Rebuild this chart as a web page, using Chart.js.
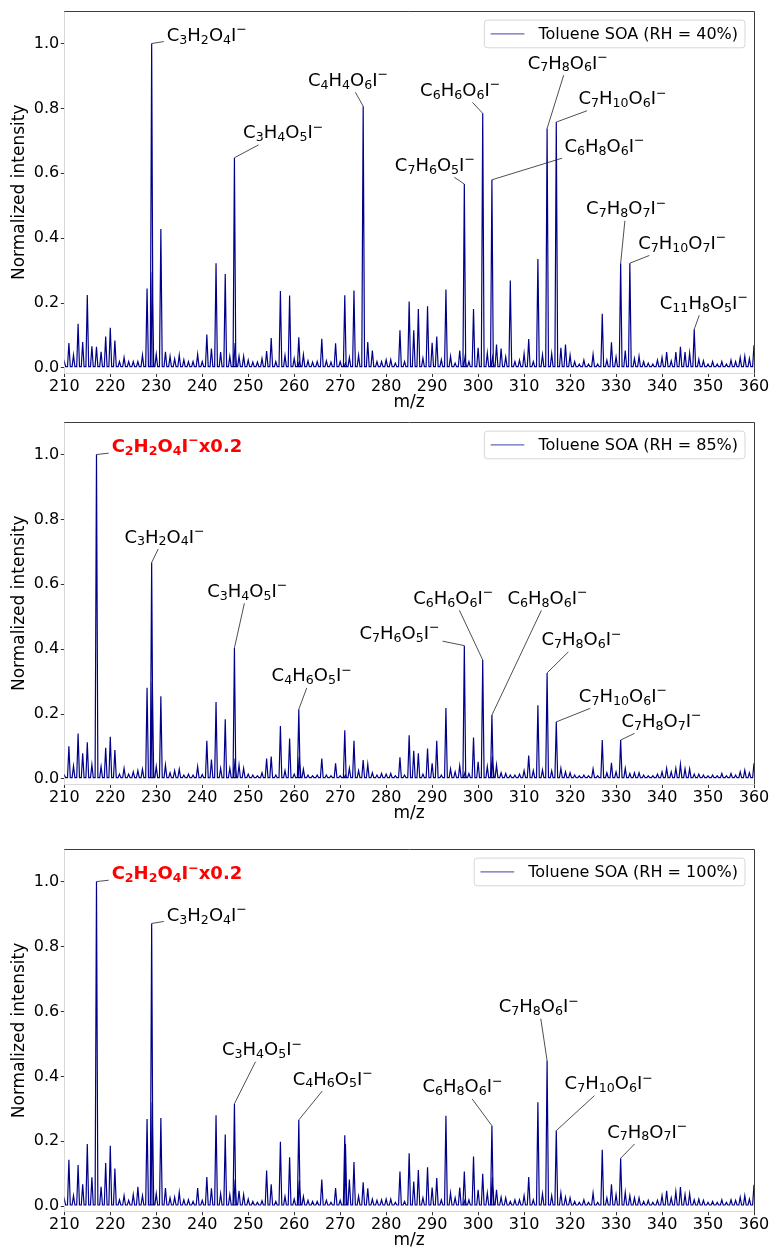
<!DOCTYPE html>
<html>
<head>
<meta charset="utf-8">
<script src="https://cdn.jsdelivr.net/npm/chart.js@4.4.0/dist/chart.umd.min.js"></script>
<style>
  html, body { margin: 0; padding: 0; background: #fff; overflow: hidden; }
  #wrap { position: relative; width: 773px; height: 1251px; }
  .panel { position: absolute; left: 0; width: 773px; }
</style>
</head>
<body>
<div id="wrap"></div>
<script>
// nominal m/z of every peak (one per unit mass)
const MZ = [
  210, 211, 212, 213, 214, 215, 216, 217, 218, 219,
  220, 221, 222, 223, 224, 225, 226, 227, 228, 229,
  230, 231, 232, 233, 234, 235, 236, 237, 238, 239,
  240, 241, 242, 243, 244, 245, 246, 247, 248, 249,
  250, 251, 252, 253, 254, 255, 256, 257, 258, 259,
  260, 261, 262, 263, 264, 265, 266, 267, 268, 269,
  270, 271, 272, 273, 274, 275, 276, 277, 278, 279,
  280, 281, 282, 283, 284, 285, 286, 287, 288, 289,
  290, 291, 292, 293, 294, 295, 296, 297, 298, 299,
  300, 301, 302, 303, 304, 305, 306, 307, 308, 309,
  310, 311, 312, 313, 314, 315, 316, 317, 318, 319,
  320, 321, 322, 323, 324, 325, 326, 327, 328, 329,
  330, 331, 332, 333, 334, 335, 336, 337, 338, 339,
  340, 341, 342, 343, 344, 345, 346, 347, 348, 349,
  350, 351, 352, 353, 354, 355, 356, 357, 358, 359,
  360
];

const RH40 = [
  0.020, 0.077, 0.040, 0.136, 0.080, 0.225, 0.067, 0.065, 0.050, 0.097,
  0.124, 0.085, 0.020, 0.032, 0.020, 0.020, 0.020, 0.040, 0.245, 1.000,
  0.042, 0.428, 0.050, 0.036, 0.028, 0.040, 0.025, 0.020, 0.020, 0.042,
  0.020, 0.103, 0.060, 0.323, 0.049, 0.290, 0.036, 0.648, 0.036, 0.036,
  0.024, 0.018, 0.018, 0.029, 0.052, 0.092, 0.020, 0.237, 0.038, 0.223,
  0.029, 0.095, 0.041, 0.022, 0.018, 0.020, 0.090, 0.022, 0.018, 0.076,
  0.020, 0.224, 0.032, 0.239, 0.039, 0.807, 0.080, 0.054, 0.020, 0.020,
  0.025, 0.026, 0.015, 0.116, 0.020, 0.205, 0.116, 0.182, 0.030, 0.190,
  0.078, 0.097, 0.026, 0.242, 0.036, 0.015, 0.054, 0.567, 0.020, 0.182,
  0.062, 0.785, 0.046, 0.580, 0.072, 0.060, 0.034, 0.270, 0.020, 0.024,
  0.044, 0.089, 0.020, 0.336, 0.041, 0.738, 0.044, 0.758, 0.062, 0.072,
  0.039, 0.020, 0.012, 0.024, 0.012, 0.042, 0.012, 0.167, 0.024, 0.079,
  0.034, 0.323, 0.054, 0.323, 0.029, 0.036, 0.020, 0.015, 0.012, 0.024,
  0.032, 0.049, 0.022, 0.049, 0.065, 0.049, 0.046, 0.119, 0.027, 0.022,
  0.012, 0.020, 0.012, 0.020, 0.012, 0.024, 0.020, 0.032, 0.036, 0.029,
  0.070
];

const RH85 = [
  0.012, 0.101, 0.040, 0.140, 0.079, 0.113, 0.044, 1.000, 0.038, 0.096,
  0.130, 0.089, 0.015, 0.033, 0.015, 0.022, 0.026, 0.030, 0.281, 0.667,
  0.038, 0.255, 0.043, 0.019, 0.026, 0.030, 0.012, 0.015, 0.012, 0.038,
  0.014, 0.118, 0.060, 0.237, 0.033, 0.184, 0.033, 0.404, 0.043, 0.033,
  0.015, 0.012, 0.010, 0.019, 0.063, 0.069, 0.012, 0.163, 0.026, 0.125,
  0.015, 0.215, 0.030, 0.012, 0.010, 0.012, 0.063, 0.012, 0.010, 0.048,
  0.010, 0.150, 0.033, 0.118, 0.026, 0.058, 0.045, 0.019, 0.012, 0.017,
  0.015, 0.017, 0.010, 0.067, 0.012, 0.135, 0.087, 0.079, 0.015, 0.094,
  0.048, 0.118, 0.012, 0.219, 0.031, 0.022, 0.041, 0.411, 0.017, 0.128,
  0.053, 0.367, 0.038, 0.197, 0.043, 0.019, 0.017, 0.012, 0.012, 0.015,
  0.026, 0.072, 0.026, 0.227, 0.028, 0.327, 0.025, 0.176, 0.033, 0.022,
  0.019, 0.012, 0.010, 0.012, 0.010, 0.031, 0.010, 0.120, 0.019, 0.050,
  0.022, 0.120, 0.033, 0.017, 0.019, 0.019, 0.012, 0.010, 0.010, 0.015,
  0.022, 0.033, 0.022, 0.033, 0.045, 0.031, 0.031, 0.015, 0.015, 0.012,
  0.010, 0.012, 0.010, 0.017, 0.010, 0.017, 0.012, 0.022, 0.027, 0.019,
  0.048
];

const RH100 = [
  0.022, 0.143, 0.033, 0.127, 0.068, 0.192, 0.089, 1.000, 0.060, 0.133,
  0.186, 0.116, 0.020, 0.033, 0.018, 0.036, 0.060, 0.033, 0.269, 0.871,
  0.039, 0.272, 0.056, 0.026, 0.028, 0.043, 0.020, 0.020, 0.015, 0.056,
  0.018, 0.090, 0.055, 0.280, 0.039, 0.221, 0.036, 0.316, 0.048, 0.036,
  0.022, 0.015, 0.012, 0.017, 0.110, 0.068, 0.015, 0.199, 0.030, 0.151,
  0.022, 0.266, 0.030, 0.018, 0.015, 0.015, 0.082, 0.018, 0.012, 0.056,
  0.018, 0.219, 0.082, 0.136, 0.031, 0.074, 0.055, 0.022, 0.018, 0.020,
  0.022, 0.022, 0.012, 0.107, 0.015, 0.163, 0.076, 0.112, 0.026, 0.120,
  0.058, 0.087, 0.020, 0.279, 0.041, 0.026, 0.058, 0.107, 0.020, 0.153,
  0.051, 0.100, 0.041, 0.248, 0.051, 0.028, 0.026, 0.015, 0.020, 0.020,
  0.033, 0.090, 0.020, 0.320, 0.039, 0.449, 0.033, 0.233, 0.041, 0.028,
  0.026, 0.015, 0.012, 0.020, 0.012, 0.041, 0.012, 0.174, 0.026, 0.068,
  0.036, 0.148, 0.043, 0.033, 0.026, 0.026, 0.015, 0.018, 0.012, 0.018,
  0.033, 0.048, 0.026, 0.045, 0.059, 0.036, 0.039, 0.020, 0.022, 0.018,
  0.012, 0.015, 0.012, 0.020, 0.012, 0.020, 0.018, 0.028, 0.033, 0.022,
  0.066
];

// second peaks sitting just right of a main peak (same nominal mass)
const SHOULDER_MZ = [229.15, 247.15, 261.15, 271.15, 297.15, 303.15];
const SHOULDER_RH40 = [0.295, 0.077, 0.020, 0.015, 0.034, 0.034];
const SHOULDER_RH85 = [0.299, 0.063, 0.069, 0.012, 0.020, 0.070];
const SHOULDER_RH100 = [0.320, 0.082, 0.079, 0.192, 0.020, 0.090];

const BASELINE = 0.004;

const X_TICKS = [210, 220, 230, 240, 250, 260, 270, 280, 290, 300, 310, 320, 330, 340, 350, 360];
const Y_TICKS = [0, 0.2, 0.4, 0.6, 0.8, 1.0];

// peak assignments: formula, labelled peak
const LABELS_40 = ['C_3H_2O_4I^−', 'C_4H_4O_6I^−', 'C_3H_4O_5I^−', 'C_7H_6O_5I^−', 'C_6H_6O_6I^−', 'C_6H_8O_6I^−',
  'C_7H_8O_6I^−', 'C_7H_10O_6I^−', 'C_7H_8O_7I^−', 'C_7H_10O_7I^−', 'C_11H_8O_5I^−'];
const PEAKS_40 = [229, 275, 247, 297, 301, 303, 315, 317, 331, 333, 347];
const LABELS_85 = ['C_2H_2O_4I^−x0.2', 'C_3H_2O_4I^−', 'C_3H_4O_5I^−', 'C_4H_6O_5I^−', 'C_7H_6O_5I^−', 'C_6H_6O_6I^−',
  'C_6H_8O_6I^−', 'C_7H_8O_6I^−', 'C_7H_10O_6I^−', 'C_7H_8O_7I^−'];
const PEAKS_85 = [217, 229, 247, 261, 297, 301, 303, 315, 317, 331];
const LABELS_100 = ['C_2H_2O_4I^−x0.2', 'C_3H_2O_4I^−', 'C_3H_4O_5I^−', 'C_4H_6O_5I^−', 'C_6H_8O_6I^−',
  'C_7H_8O_6I^−', 'C_7H_10O_6I^−', 'C_7H_8O_7I^−'];
const PEAKS_100 = [217, 229, 247, 261, 303, 315, 317, 331];

// where the label text sits (centre, in m/z and intensity units)
const TEXT_AT_40 = [[241.0, 1.028], [271.7, 0.890], [257.6, 0.728], [290.6, 0.628], [296.1, 0.859], [327.5, 0.687],
  [319.5, 0.943], [331.4, 0.833], [332.2, 0.494], [344.4, 0.387], [349.1, 0.203]];
const TEXT_AT_85 = [[234.5, 1.028], [231.8, 0.749], [249.8, 0.582], [263.8, 0.321], [282.9, 0.452], [294.6, 0.560],
  [315.1, 0.560], [322.5, 0.432], [331.5, 0.258], [339.9, 0.181]];
const TEXT_AT_100 = [[234.5, 1.027], [241.0, 0.899], [253.0, 0.485], [268.4, 0.395], [296.6, 0.371],
  [313.2, 0.618], [328.4, 0.381], [336.8, 0.232]];

const FONT = '"DejaVu Sans"';
const LINE_COLOR = '#00008b';
const PEAK_HW = 0.3;
const PLOT_H = 363.5;
const CANVAS_H = 414;

Chart.defaults.font.family = FONT;
Chart.defaults.color = '#000';

function buildSpectrum(values, shoulders) {
  const peaks = MZ.map((m, i) => [m, values[i]])
    .concat(SHOULDER_MZ.map((m, i) => [m, shoulders[i]]))
    .sort((a, b) => a[0] - b[0]);
  const pts = [];
  peaks.forEach(([m, h]) => {
    pts.push({ x: m - PEAK_HW, y: BASELINE }, { x: m, y: h }, { x: m + PEAK_HW, y: BASELINE });
  });
  return pts;
}

// draws "C_3H_2O_4I^−" style formulas, returns the width
function formula(ctx, str, x, y, size, bold, color, draw) {
  const w = bold ? 'bold ' : '';
  let cx = x, i = 0;
  while (i < str.length) {
    let txt, fs = size, dy = 0;
    if (str[i] === '_') {
      let j = i + 1;
      while (j < str.length && /\d/.test(str[j])) j++;
      txt = str.slice(i + 1, j); i = j; fs = size * 0.7; dy = size * 0.16;
    } else if (str[i] === '^') {
      txt = str[i + 1]; i += 2; fs = size * 0.7; dy = -size * 0.42;
    } else {
      let j = i;
      while (j < str.length && str[j] !== '_' && str[j] !== '^') j++;
      txt = str.slice(i, j); i = j;
    }
    ctx.font = w + fs + 'px ' + FONT;
    if (draw) { ctx.fillStyle = color; ctx.fillText(txt, cx, y + dy); }
    cx += ctx.measureText(txt).width;
  }
  return cx - x;
}

const peakLabels = {
  id: 'peakLabels',
  afterDatasetsDraw(chart, args, opts) {
    const { ctx, scales: { x, y } } = chart;
    const size = 18;
    ctx.save();
    ctx.textBaseline = 'alphabetic';
    ctx.textAlign = 'left';
    opts.labels.forEach((lab, k) => {
      const red = lab.indexOf('x0.2') >= 0;
      const m = opts.peaks[k];
      const px = x.getPixelForValue(m);
      const py = y.getPixelForValue(opts.values[MZ.indexOf(m)]);
      const cx = x.getPixelForValue(opts.at[k][0]);
      const cy = y.getPixelForValue(opts.at[k][1]);
      const w = formula(ctx, lab, 0, 0, size, red, '#000', false);
      const base = cy + 0.365 * size;
      const x0 = cx - w / 2;
      const box = { l: x0 - 3, r: x0 + w + 3, t: base - 0.76 * size - 3, b: base + 6.5 };
      // leader line from the peak top to the edge of the text box
      let t = 0;
      if (px < box.l) t = Math.max(t, (box.l - px) / (cx - px));
      if (px > box.r) t = Math.max(t, (box.r - px) / (cx - px));
      if (py > box.b) t = Math.max(t, (box.b - py) / (cy - py));
      if (py < box.t) t = Math.max(t, (box.t - py) / (cy - py));
      ctx.strokeStyle = '#222';
      ctx.lineWidth = 0.8;
      ctx.beginPath();
      ctx.moveTo(px, py);
      ctx.lineTo(px + t * (cx - px), py + t * (cy - py));
      ctx.stroke();
      formula(ctx, lab, x0, base, size, red, red ? '#ff0000' : '#000', true);
    });
    ctx.restore();
  }
};

const boxLegend = {
  id: 'boxLegend',
  afterDraw(chart, args, opts) {
    const { ctx, chartArea } = chart;
    ctx.save();
    ctx.font = '16px ' + FONT;
    const tw = ctx.measureText(opts.text).width;
    const h = 27.7, w = tw + 61;
    const r = chartArea.right - 9, l = r - w, t = chartArea.top + 9;
    ctx.beginPath();
    ctx.roundRect(l, t, w, h, 3);
    ctx.fillStyle = 'rgba(255,255,255,0.8)';
    ctx.fill();
    ctx.strokeStyle = '#d6d6d6';
    ctx.lineWidth = 1;
    ctx.stroke();
    const mid = t + h / 2;
    ctx.strokeStyle = 'rgba(0,0,139,0.6)';
    ctx.lineWidth = 1.3;
    ctx.beginPath();
    ctx.moveTo(l + 6.3, mid);
    ctx.lineTo(l + 40, mid);
    ctx.stroke();
    ctx.fillStyle = '#000';
    ctx.textBaseline = 'middle';
    ctx.fillText(opts.text, l + 54, mid + 1);
    ctx.restore();
  }
};

const frame = {
  id: 'frame',
  afterDatasetsDraw(chart) {
    const { ctx, chartArea: a } = chart;
    ctx.save();
    ctx.strokeStyle = '#3c3c3c';
    ctx.lineWidth = 1;
    ctx.beginPath();
    ctx.moveTo(a.left, Math.round(a.top) + 0.5);
    ctx.lineTo(Math.round(a.right) + 0.5, Math.round(a.top) + 0.5);
    ctx.lineTo(Math.round(a.right) + 0.5, a.bottom);
    ctx.stroke();
    ctx.restore();
  }
};

function makePanel(top, padTop, values, shoulders, legendText, labels, peaks, at) {
  const div = document.createElement('div');
  div.className = 'panel';
  div.style.top = top + 'px';
  const canvas = document.createElement('canvas');
  canvas.width = 773;
  canvas.height = CANVAS_H;
  canvas.style.width = '773px';
  canvas.style.height = CANVAS_H + 'px';
  div.appendChild(canvas);
  document.getElementById('wrap').appendChild(div);

  new Chart(canvas, {
    type: 'scatter',
    data: {
      datasets: [{
        label: legendText,
        data: buildSpectrum(values, shoulders),
        showLine: true,
        borderColor: LINE_COLOR,
        borderWidth: 1.2,
        pointRadius: 0,
        tension: 0
      }]
    },
    options: {
      responsive: false,
      animation: false,
      events: [],
      layout: { padding: { top: padTop, right: 19, left: 0, bottom: 0 } },
      scales: {
        x: {
          type: 'linear', min: 210, max: 360,
          afterFit: s => { s.height = CANVAS_H - padTop - PLOT_H; },
          afterBuildTicks: s => { s.ticks = X_TICKS.map(v => ({ value: v })); },
          ticks: { font: { size: 16 }, padding: 0, autoSkip: false, maxRotation: 0, color: '#000' },
          grid: { drawOnChartArea: false, drawTicks: true, tickLength: 3.5, tickColor: '#333' },
          border: { color: '#d9d9d9', width: 1 },
          title: { display: true, text: 'm/z', font: { size: 17 }, color: '#000', padding: { top: 0, bottom: 1.5 } }
        },
        y: {
          type: 'linear', min: -0.017, max: 1.1,
          afterFit: s => { s.width = 64.3; },
          afterBuildTicks: s => { s.ticks = Y_TICKS.map(v => ({ value: v })); },
          ticks: { font: { size: 16 }, padding: 1.5, color: '#000', callback: v => v.toFixed(1) },
          grid: { drawOnChartArea: false, drawTicks: true, tickLength: 3.5, tickColor: '#333' },
          border: { color: '#d9d9d9', width: 1 },
          title: { display: true, text: 'Normalized intensity', font: { size: 17 }, color: '#000', padding: { top: 9, bottom: 0 } }
        }
      },
      plugins: {
        legend: { display: false },
        tooltip: { enabled: false },
        peakLabels: { labels: labels, peaks: peaks, at: at, values: values },
        boxLegend: { text: legendText }
      }
    },
    plugins: [frame, peakLabels, boxLegend]
  });
}

makePanel(0, 10, RH40, SHOULDER_RH40, 'Toluene SOA (RH = 40%)', LABELS_40, PEAKS_40, TEXT_AT_40);
makePanel(411, 10, RH85, SHOULDER_RH85, 'Toluene SOA (RH = 85%)', LABELS_85, PEAKS_85, TEXT_AT_85);
makePanel(838, 10.3, RH100, SHOULDER_RH100, 'Toluene SOA (RH = 100%)', LABELS_100, PEAKS_100, TEXT_AT_100);
</script>
</body>
</html>
